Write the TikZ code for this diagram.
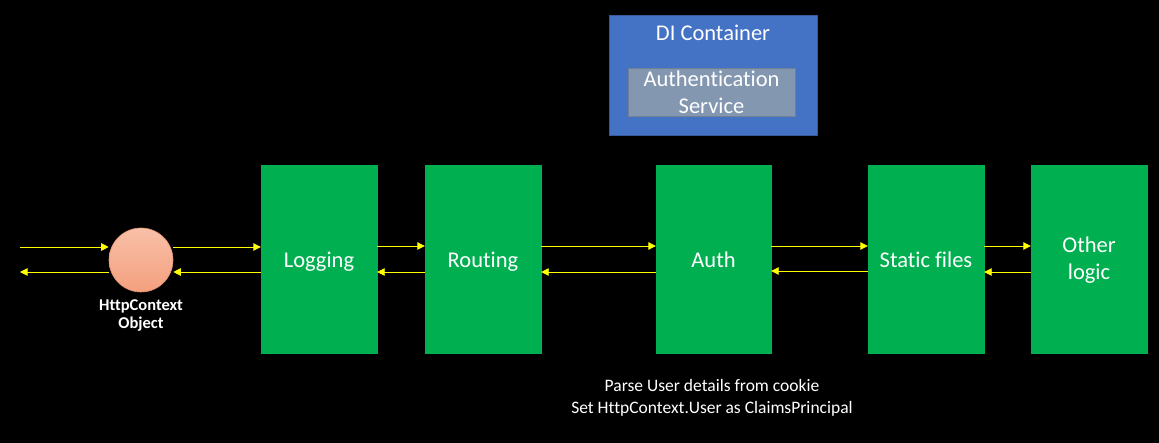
\documentclass[tikz,border=0pt]{standalone}
\usepackage{fontspec}
\setmainfont{Carlito}[Ligatures={NoCommon}]
\usetikzlibrary{arrows.meta,shadings}
\definecolor{bggreen}{HTML}{00B050}
\definecolor{diblue}{HTML}{4472C4}
\definecolor{svcgray}{HTML}{8497B0}
\definecolor{arrowyellow}{HTML}{FFFF00}
\definecolor{salmonA}{HTML}{F8C0A8}
\definecolor{salmonB}{HTML}{F4A07E}
\tikzset{
  mw/.style={fill=bggreen, draw=bggreen, minimum width=116pt, minimum height=188pt, inner sep=0pt,
    text=white, font=\fontsize{22.5}{27}\selectfont, align=center},
  oneline/.style={text height=20pt, text depth=3pt},
  flow/.style={draw=arrowyellow, line width=0.9pt, -{Triangle[length=7.5pt,width=7.5pt]}},
}
\begin{document}
\begin{tikzpicture}[x=1pt,y=-1pt]
\fill[black] (0,0) rectangle (1159,443);
\useasboundingbox (0,0) rectangle (1159,443);
% DI container
\node[fill=diblue, draw=diblue!80!black, minimum width=208pt, minimum height=120pt, inner sep=0pt] (di) at (713,75) {};
\node[text=white, font=\fontsize{22.5}{27}\selectfont] (dit) at (713,33) {DI Container};
\node[fill=svcgray, draw=svcgray!85!black, minimum width=167pt, minimum height=48pt, inner sep=0pt,
  text=white, font=\fontsize{22.5}{27}\selectfont, align=center] (svc) at (711.5,92) {Authentication\\Service};
% middleware boxes
\node[mw, oneline] (log) at (319,259) {Logging};
\node[mw, oneline] (rout) at (483,259) {Routing};
\node[mw, oneline, minimum width=115pt] (auth) at (713.5,259) {Auth};
\node[mw, oneline] (stat) at (926,259) {Static files};
\node[mw, text depth=1pt] (oth) at (1089,259) {Other\\logic};
% HttpContext object
\node[circle, minimum size=64pt, inner sep=0pt, draw=salmonB!90!black, line width=0.6pt,
  top color=salmonA, bottom color=salmonB] (ctx) at (141,260) {};
\node[text=white, font=\fontsize{16.5}{18.5}\selectfont\bfseries, align=center, anchor=north] (ctxl) at (141,296) {HttpContext\\Object};
% free ends
\coordinate (inL) at (20,247);
\coordinate (outL) at (20,272);
% arrows
\draw[flow] (inL) -- ([yshift=13pt]ctx.west);
\draw[flow] ([yshift=-12pt]ctx.west) -- (outL);
\draw[flow] ([yshift=13pt]ctx.east) -- ([yshift=12pt]log.west);
\draw[flow] ([yshift=-13pt]log.west) -- ([yshift=-12pt]ctx.east);
\draw[flow] ([yshift=13pt]log.east) -- ([yshift=13pt]rout.west);
\draw[flow] ([yshift=-13pt]rout.west) -- ([yshift=-13pt]log.east);
\draw[flow] ([yshift=13pt]rout.east) -- ([yshift=13pt]auth.west);
\draw[flow] ([yshift=-13pt]auth.west) -- ([yshift=-13pt]rout.east);
\draw[flow] ([yshift=13pt]auth.east) -- ([yshift=13pt]stat.west);
\draw[flow] ([yshift=-12pt]stat.west) -- ([yshift=-12pt]auth.east);
\draw[flow] ([yshift=13pt]stat.east) -- ([yshift=13pt]oth.west);
\draw[flow] ([yshift=-13pt]oth.west) -- ([yshift=-13pt]stat.east);
% note
\node[text=white, font=\fontsize{17.5}{22}\selectfont, align=center] (note) at (712,398) {Parse User details from cookie\\Set HttpContext.User as ClaimsPrincipal};
\end{tikzpicture}
\end{document}
